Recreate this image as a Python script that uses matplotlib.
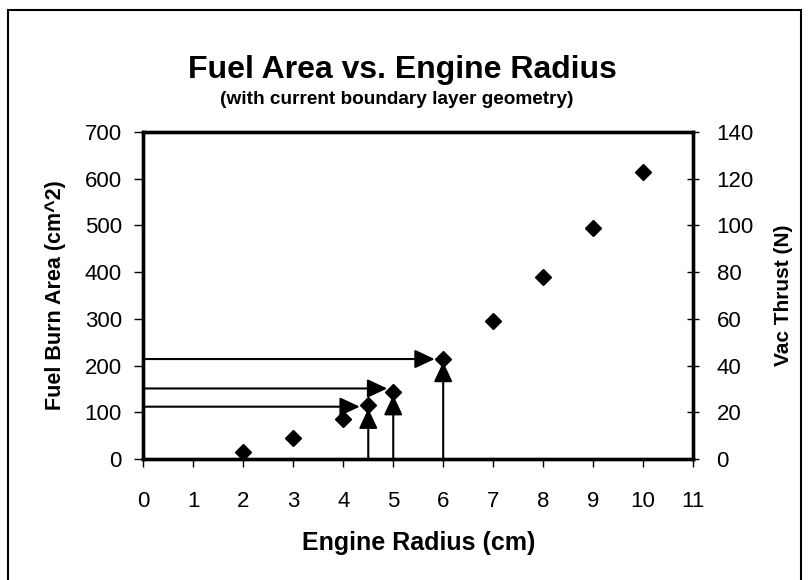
import matplotlib.pyplot as plt
import matplotlib.patches as patches

plt.rcParams['font.family'] = ['Liberation Sans', 'DejaVu Sans']

radius = [2, 3, 4, 4.5, 5, 6, 7, 8, 9, 10]
burn_area = [14, 45, 86, 115, 144, 214, 296, 390, 495, 614]

# arrows from the left axis to the chosen points
h_arrow_y = [112, 151, 214]
h_arrow_end = [4.33, 4.88, 5.83]
# arrows up from the x axis
v_arrow_x = [4.5, 5, 6]
v_arrow_end = [108, 137, 208]

fig = plt.figure(figsize=(8.12, 5.8), dpi=100)
ax = fig.add_axes([0.1767, 0.2086, 0.6767, 0.5638])

ax.plot(radius, burn_area, 'kD', markersize=7.8, zorder=5)

arrow = dict(arrowstyle='-|>,head_length=0.45,head_width=0.21', color='black',
             lw=1.5, mutation_scale=27, shrinkA=0, shrinkB=0)
for y, x_end in zip(h_arrow_y, h_arrow_end):
    ax.annotate('', xy=(x_end, y), xytext=(0, y), arrowprops=arrow)
for x, y_end in zip(v_arrow_x, v_arrow_end):
    ax.annotate('', xy=(x, y_end), xytext=(x, 0), arrowprops=arrow)

ax.set_xlim(0, 11)
ax.set_ylim(0, 700)
ax.set_xticks(range(0, 12))
ax.set_yticks(range(0, 701, 100))
ax.tick_params(axis='y', direction='out', length=6.5, width=1, labelsize=16, pad=9)
ax.tick_params(axis='x', direction='out', length=6, width=1, labelsize=16, pad=17)
ax.set_xlabel('Engine Radius (cm)', fontsize=18, fontweight='bold', va='center')
ax.xaxis.set_label_coords(0.5, -0.257)
ax.set_ylabel('Fuel Burn Area (cm^2)', fontsize=15.5, fontweight='bold', va='center')
ax.yaxis.set_label_coords(-0.161, 0.5)

ax2 = ax.twinx()
ax2.set_ylim(0, 140)
ax2.set_yticks(range(0, 141, 20))
ax2.tick_params(direction='inout', length=8, width=1, labelsize=16, pad=13)
ax2.set_ylabel('Vac Thrust (N)', fontsize=15, fontweight='bold', va='center')
ax2.yaxis.set_label_coords(1.1656, 0.5)

for a in (ax, ax2):
    for s in a.spines.values():
        s.set_linewidth(2.4)

fig.text(0.496, 0.879, 'Fuel Area vs. Engine Radius', ha='center', va='center',
         fontsize=23, fontweight='bold')
fig.text(0.488, 0.829, '(with current boundary layer geometry)', ha='center',
         va='center', fontsize=13.7, fontweight='bold')

fig.patches.append(patches.Rectangle((8 / 812, -0.02), 793 / 812, 1.02 - 10 / 580,
                                     transform=fig.transFigure, fill=False,
                                     edgecolor='black', lw=1.5))

fig.savefig('out.png', dpi=100)
